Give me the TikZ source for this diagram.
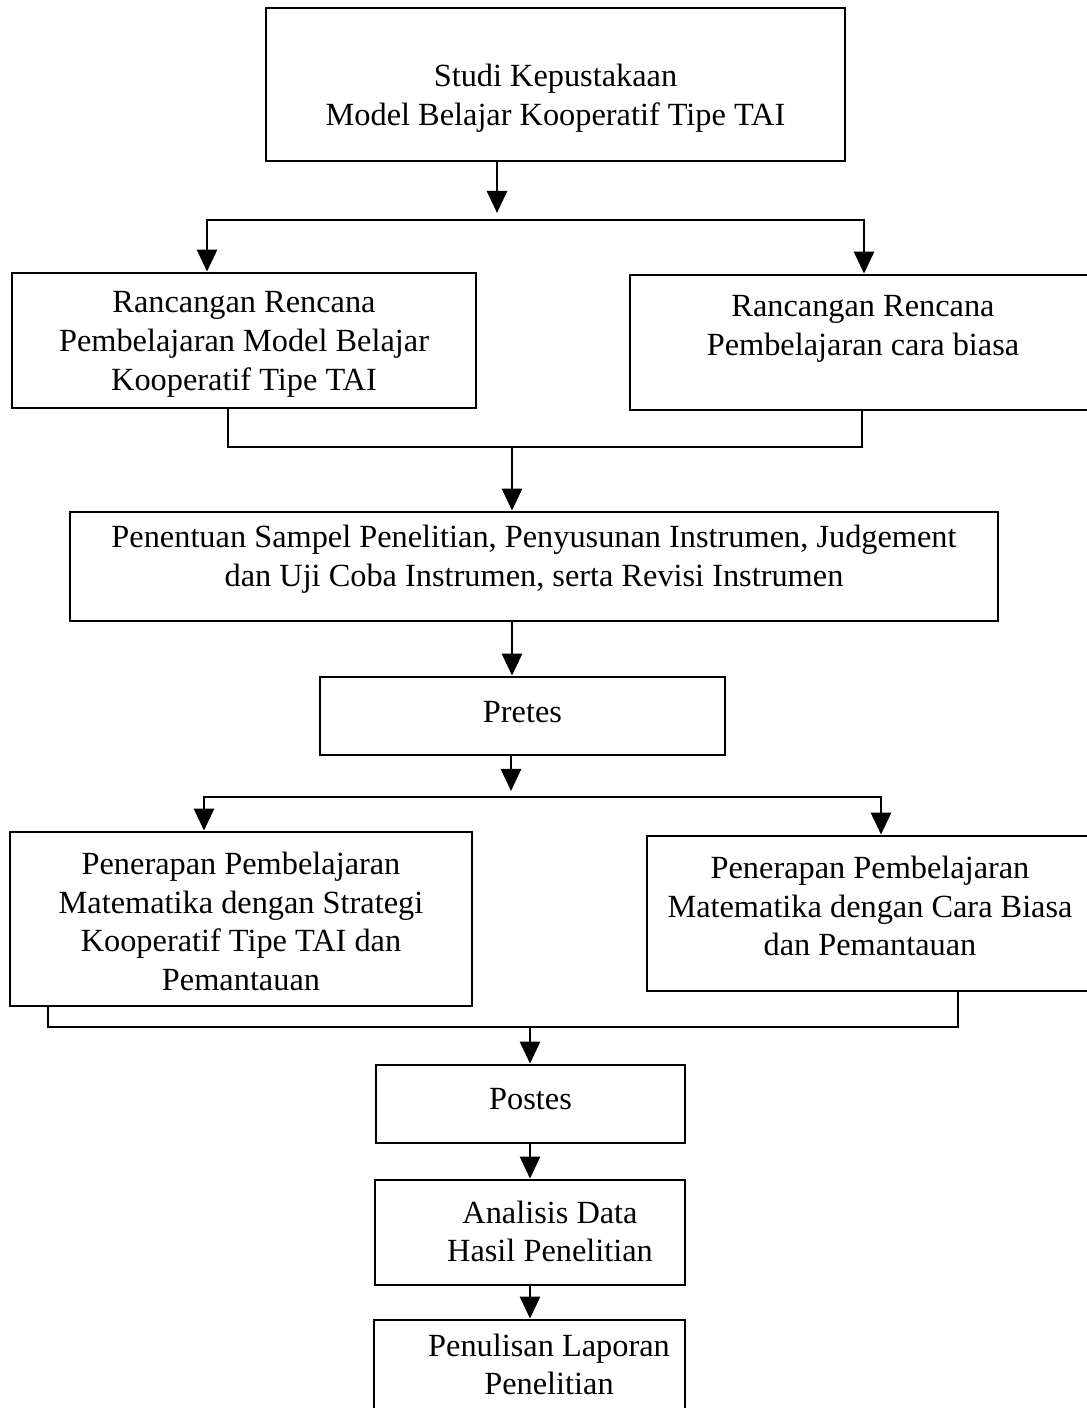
\documentclass[tikz,border=0pt]{standalone}
\usepackage{fontspec}
\setmainfont{Liberation Serif}
\usetikzlibrary{arrows.meta}

\tikzset{
  kotak/.style={draw, line width=0.07cm, inner sep=0pt},
  teks/.style={align=center, inner sep=0pt, font=\fontsize{23}{27.5}\selectfont},
  garis/.style={line width=0.07cm},
  panah/.style={line width=0.07cm, -{Triangle[length=0.55cm,width=0.5cm]}},
}

\begin{document}
\begin{tikzpicture}
                \useasboundingbox (0,0) rectangle (27.175000,35.200000);
                \clip (0,0) rectangle (27.175000,35.200000);
                {
                
                % Box studi kepustakaan
                \node [kotak, minimum width=14.475000cm, minimum height=3.825000cm] (studi) at (13.887500,33.087500) {};%
                \node [teks] (studit) at (13.887500,32.737500) {Studi Kepustakaan\\Model Belajar Kooperatif Tipe TAI};%
                
                % Box rancangan TAI
                \node [kotak, minimum width=11.600000cm, minimum height=3.375000cm] (rppa) at (6.100000,26.687500) {};%
                \node [teks] (rppat) at (6.100000,26.587500) {Rancangan Rencana\\Pembelajaran Model Belajar\\Kooperatif Tipe TAI};%
                
                % Box rancangan biasa
                \node [kotak, minimum width=11.650000cm, minimum height=3.375000cm] (rppb) at (21.575000,26.637500) {};%
                \node [teks] (rppbt) at (21.575000,26.975000) {Rancangan Rencana\\Pembelajaran cara biasa};%
                
                % Box sampel dan instrumen
                \node [kotak, minimum width=23.200000cm, minimum height=2.725000cm] (sampel) at (13.350000,21.037500) {};%
                \node [teks] (sampelt) at (13.350000,21.225000) {Penentuan Sampel Penelitian, Penyusunan Instrumen, Judgement\\dan Uji Coba Instrumen, serta Revisi Instrumen};%
                
                % Box pretes
                \node [kotak, minimum width=10.125000cm, minimum height=1.950000cm] (pretes) at (13.062500,17.300000) {};%
                \node [teks] (pretest) at (13.062500,17.400000) {Pretes};%
                
                % Box penerapan TAI
                \node [kotak, minimum width=11.550000cm, minimum height=4.350000cm] (terapa) at (6.025000,12.225000) {};%
                \node [teks] (terapat) at (6.025000,12.162500) {Penerapan Pembelajaran\\Matematika dengan Strategi\\Kooperatif Tipe TAI dan\\Pemantauan};%
                
                % Box penerapan biasa
                \node [kotak, minimum width=11.150000cm, minimum height=3.875000cm] (terapb) at (21.750000,12.362500) {};%
                \node [teks] (terapbt) at (21.750000,12.550000) {Penerapan Pembelajaran\\Matematika dengan Cara Biasa\\dan Pemantauan};%
                
                % Box postes
                \node [kotak, minimum width=7.725000cm, minimum height=1.950000cm] (postes) at (13.262500,7.600000) {};%
                \node [teks] (postest) at (13.262500,7.725000) {Postes};%
                
                % Box analisis
                \node [kotak, minimum width=7.750000cm, minimum height=2.625000cm] (analisis) at (13.250000,4.387500) {};%
                \node [teks] (analisist) at (13.750000,4.412500) {Analisis Data\\Hasil Penelitian};%
                
                % Box laporan
                \node [kotak, minimum width=7.775000cm, minimum height=2.625000cm] (laporan) at (13.237500,0.887500) {};%
                \node [teks] (laporant) at (13.725000,1.087500) {Penulisan Laporan\\Penelitian};%
                
                % Branch points
                \coordinate (s1) at (12.425000,29.700000);%
                \coordinate (s1t) at (12.425000,29.875000);%
                \coordinate (s1a) at (5.175000,29.700000);%
                \coordinate (s1b) at (21.600000,29.700000);%
                \coordinate (m1) at (12.800000,24.025000);%
                \coordinate (m1a) at (5.700000,24.025000);%
                \coordinate (m1b) at (21.550000,24.025000);%
                \coordinate (s2) at (12.775000,15.275000);%
                \coordinate (s2t) at (12.775000,15.425000);%
                \coordinate (s2a) at (5.100000,15.275000);%
                \coordinate (s2b) at (22.025000,15.275000);%
                \coordinate (m2) at (13.250000,9.525000);%
                \coordinate (m2a) at (1.200000,9.525000);%
                \coordinate (m2b) at (23.950000,9.525000);%
                
                % Drawing studi to rancangan
                \draw [panah] (studi.south -| s1t) -- (s1t);%
                \draw [panah] (s1) -- (s1a) -- (rppa.north -| s1a);%
                \draw [panah] (s1) -- (s1b) -- (rppb.north -| s1b);%
                
                % Drawing rancangan to sampel
                \draw [garis] (rppa.south -| m1a) -- (m1a) -- (m1b) -- (rppb.south -| m1b);%
                \draw [panah] (m1) -- (sampel.north -| m1);%
                
                % Drawing sampel to pretes
                \draw [panah] (sampel.south -| m1) -- (pretes.north -| m1);%
                
                % Drawing pretes to penerapan
                \draw [panah] (pretes.south -| s2t) -- (s2t);%
                \draw [panah] (s2) -- (s2a) -- (terapa.north -| s2a);%
                \draw [panah] (s2) -- (s2b) -- (terapb.north -| s2b);%
                
                % Drawing penerapan to postes
                \draw [garis] (terapa.south -| m2a) -- (m2a) -- (m2b) -- (terapb.south -| m2b);%
                \draw [panah] (m2) -- (postes.north -| m2);%
                
                % Drawing postes to analisis to laporan
                \draw [panah] (postes.south -| m2) -- (analisis.north -| m2);%
                \draw [panah] (analisis.south -| m2) -- (laporan.north -| m2);%
                }
            \end{tikzpicture}
\end{document}
